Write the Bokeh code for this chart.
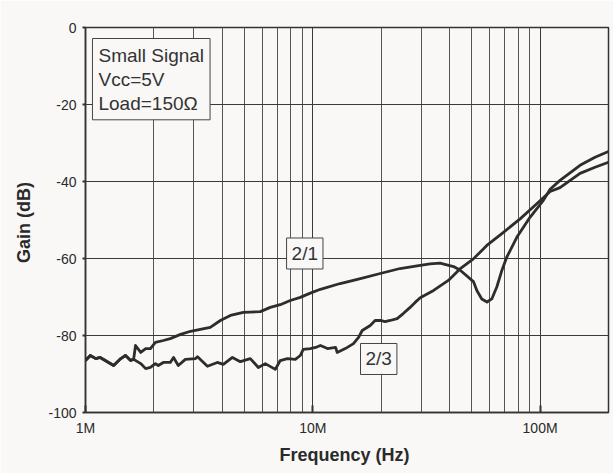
from bokeh.plotting import figure
from bokeh.models import FixedTicker, Label, ColumnDataSource
from bokeh.embed import file_html
from bokeh.resources import INLINE

# ---- data (frequency in MHz, gain in dB) ----
f21_mhz = [1.0, 1.05, 1.11, 1.16, 1.33, 1.43, 1.50, 1.58, 1.63, 1.66, 1.75, 1.84, 1.93,
           2.03, 2.20, 2.36, 2.62, 2.90, 3.20, 3.54, 3.92, 4.34, 4.95, 5.88, 6.50, 7.19,
           7.96, 8.81, 9.75, 10.8, 13.2, 16.2, 19.8, 24.2, 29.7, 32.8, 36.3, 41.6, 44.4,
           50.9, 52.7, 55.4, 58.4, 61.3, 64.5, 67.9, 71.3, 79.0, 90.3, 103.4, 110.7,
           122.4, 149.9, 174.5, 200.0]
g21_db = [-86.5, -85.2, -86.0, -85.7, -87.8, -86.0, -85.2, -86.5, -86.0, -82.6, -84.4,
          -83.4, -83.4, -81.8, -81.3, -80.8, -79.7, -78.9, -78.4, -77.9, -76.1, -74.8,
          -74.0, -73.8, -72.7, -72.0, -70.9, -70.1, -69.0, -68.0, -66.5, -65.2, -63.9,
          -62.6, -61.8, -61.4, -61.2, -62.1, -63.0, -66.0, -68.3, -70.5, -71.3, -70.5,
          -67.4, -63.1, -59.7, -54.5, -49.3, -44.9, -42.0, -39.7, -35.8, -33.7, -32.2]

f23_mhz = [1.0, 1.05, 1.11, 1.16, 1.33, 1.43, 1.50, 1.58, 1.63, 1.75, 1.84, 1.93, 2.03,
           2.09, 2.20, 2.36, 2.44, 2.56, 2.75, 3.05, 3.11, 3.44, 3.80, 4.04, 4.43, 4.80,
           5.31, 5.76, 6.18, 6.84, 7.19, 7.73, 8.38, 8.81, 9.08, 9.75, 10.3, 10.8, 11.6,
           12.6, 12.8, 13.9, 15.1, 15.9, 16.5, 17.9, 18.8, 19.8, 20.8, 21.9, 23.5, 25.0,
           26.8, 28.2, 29.7, 34.0, 39.5, 44.4, 50.9, 58.3, 69.0, 81.7, 96.7, 110.7,
           122.4, 149.9, 174.5, 200.0]
g23_db = [-86.5, -85.2, -86.0, -85.7, -87.8, -86.0, -85.2, -86.5, -86.2, -87.3, -88.6,
          -88.3, -87.3, -87.8, -87.0, -87.0, -85.7, -87.8, -86.2, -86.0, -85.5, -88.0,
          -87.0, -87.5, -85.7, -86.8, -86.0, -88.3, -87.3, -88.8, -86.5, -86.0, -86.2,
          -85.2, -83.6, -83.4, -83.1, -82.6, -83.4, -83.1, -84.4, -83.4, -82.1, -80.5,
          -78.7, -77.4, -76.1, -76.1, -76.4, -76.1, -75.6, -74.3, -72.7, -71.4, -70.2,
          -68.3, -65.7, -62.7, -60.1, -56.6, -53.2, -49.7, -45.8, -42.6, -41.6, -37.9,
          -36.3, -35.0]

x_major_ticks = [1e6, 1e7, 1e8]
x_minor_ticks = [m * d for d in (1e6, 1e7) for m in range(2, 10)] + [2e8]
x_tick_labels = {1e6: "1M", 1e7: "10M", 1e8: "100M"}
y_ticks = [-100, -80, -60, -40, -20, 0]
y_tick_labels = {-100: "-100", -80: "-80", -60: "-60", -40: "-40", -20: "-20", 0: "0"}

BG = "#f9f8f6"
INK = "#2d2d2d"
FONT = "Liberation Sans"

p = figure(width=613, height=473, x_axis_type="log",
           x_range=(1e6, 2e8), y_range=(-100, 0),
           output_backend="svg", toolbar_location=None,
           background_fill_color=BG, border_fill_color=BG,
           min_border_left=85, min_border_right=5, min_border_top=27, min_border_bottom=61)

p.outline_line_color = "#333333"
p.outline_line_width = 1.5

xt = FixedTicker(ticks=x_major_ticks, minor_ticks=x_minor_ticks)
yt = FixedTicker(ticks=y_ticks)
p.xaxis.ticker = xt
p.yaxis.ticker = yt
p.xgrid.ticker = xt
p.ygrid.ticker = yt
p.xaxis.major_label_overrides = x_tick_labels
p.yaxis.major_label_overrides = y_tick_labels

p.xgrid.grid_line_color = "#3a3a3a"
p.xgrid.grid_line_width = 1
p.xgrid.minor_grid_line_color = "#555555"
p.xgrid.minor_grid_line_width = 1
p.ygrid.grid_line_color = "#3a3a3a"
p.ygrid.grid_line_width = 1

for ax in (p.xaxis, p.yaxis):
    ax.axis_line_color = "#333333"
    ax.axis_line_width = 1.5
    ax.minor_tick_line_color = None
    ax.major_tick_line_color = "#333333"
    ax.major_tick_line_width = 2
    ax.major_label_text_font = FONT
    ax.major_label_text_font_size = "14px"
    ax.major_label_text_color = "#2a2a2a"
    ax.axis_label_text_font = FONT
    ax.axis_label_text_font_size = "18px"
    ax.axis_label_text_font_style = "bold"
    ax.axis_label_text_color = "#2a2a2a"

p.xaxis.major_tick_in = 7
p.xaxis.major_tick_out = 0
p.xaxis.major_label_standoff = 3
p.xaxis.axis_label = "Frequency  (Hz)"
p.xaxis.axis_label_standoff = 6

p.yaxis.major_tick_in = 0
p.yaxis.major_tick_out = 3
p.yaxis.major_label_standoff = 6
p.yaxis.axis_label = "Gain  (dB)"
p.yaxis.axis_label_standoff = 11

s21 = ColumnDataSource(dict(x=[v * 1e6 for v in f21_mhz], y=g21_db))
s23 = ColumnDataSource(dict(x=[v * 1e6 for v in f23_mhz], y=g23_db))
p.line("x", "y", source=s23, line_color=INK, line_width=2.8, line_join="round")
p.line("x", "y", source=s21, line_color=INK, line_width=2.8, line_join="round")

box_style = dict(text_font=FONT, text_font_size="19px", text_color="#333333",
                 background_fill_color=BG, border_line_color="#444444",
                 border_line_width=1)

p.add_layout(Label(x=1.073e6, y=-2.86, text="Small Signal\nVcc=5V\nLoad=150\u03a9",
                   anchor="top_left", padding=6, text_line_height=1.15, **box_style))
p.add_layout(Label(x=9.22e6, y=-58.7, text="2/1", anchor="center", padding=5, **box_style))
p.add_layout(Label(x=19.5e6, y=-86.1, text="2/3", anchor="center", padding=5, **box_style))

open("out.html", "w").write(file_html(p, INLINE))
